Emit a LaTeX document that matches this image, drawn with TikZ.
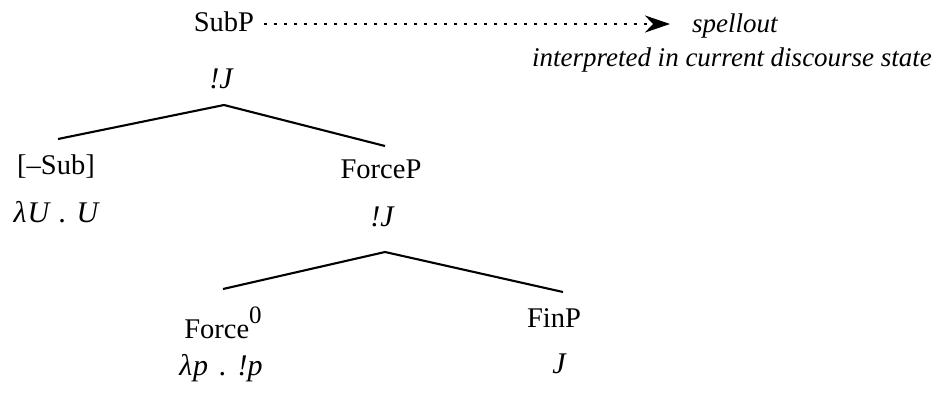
\documentclass[tikz,border=0pt]{standalone}
\usepackage{fontspec}
\setmainfont{Liberation Serif}
\usetikzlibrary{arrows.meta}
\begin{document}
\begin{tikzpicture}[x=1pt,y=-1pt,
  lab/.style={font=\fontsize{28.5}{33}\selectfont, inner sep=0pt, anchor=base},
  sem/.style={font=\fontsize{27}{32}\selectfont\itshape, inner sep=0pt, anchor=base},
  formula/.style={font=\fontsize{30}{35}\selectfont\itshape, inner sep=0pt, anchor=base},
  branch/.style={line width=2.1pt},
  spell/.style={line width=2.6pt, dash pattern=on 2.6pt off 7.4pt,
    -{Stealth[length=25pt,width=17pt,inset=8pt]}}]
\useasboundingbox (0,0) rectangle (940,397);
% labels
\node[lab] (subp) at (224,31) {SubP};
\node[formula] (semtop) at (221,88) {!J};
\node[sem, anchor=base west] (spellout) at (692,32) {spellout};
\node[sem] (interp) at (732,66) {interpreted in current discourse state};
\node[lab] (sub) at (56,174) {[–Sub]};
\node[formula] (semsub) at (56,222) {λ\kern1pt U\hspace{10pt}.\hspace{10pt}U};
\node[lab] (forcep) at (381,178) {ForceP};
\node[formula] (semforcep) at (382,226) {!J};
\node[lab] (force) at (223,338) {Force\raisebox{15pt}{\fontsize{25}{30}\selectfont 0}};
\node[formula] (semforce) at (221,375) {λ\kern1pt p\hspace{11pt}.\hspace{11pt}!p};
\node[lab] (finp) at (554,327) {FinP};
\node[formula] (semfin) at (559,373) {J};
% branch points
\coordinate (a1) at (224,105);
\coordinate (l1) at (58,139);
\coordinate (r1) at (385,146);
\coordinate (a2) at (385,252);
\coordinate (l2) at (223,289);
\coordinate (r2) at (563,292);
\draw[branch] (l1) -- (a1) -- (r1);
\draw[branch] (l2) -- (a2) -- (r2);
% spellout arrow
\draw[spell] ([shift={(10pt,7pt)}]subp.base east) -- ([shift={(-22pt,8pt)}]spellout.base west);
\end{tikzpicture}
\end{document}
